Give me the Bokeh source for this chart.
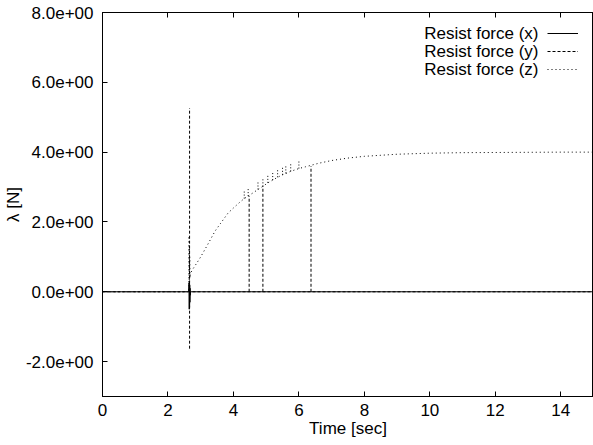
from bokeh.plotting import figure
from bokeh.models import (Range1d, FixedTicker, LinearAxis, Legend, LegendItem, Label)
from bokeh.embed import file_html
from bokeh.resources import INLINE

# ---- data ----
series_names = ["Resist force (x)", "Resist force (y)", "Resist force (z)"]

# x component: zero with a short oscillation at contact
t_x = [0.0, 2.63, 2.645, 2.65, 2.655, 2.66, 2.665, 2.67, 2.675, 2.68, 2.69, 15.0]
f_x = [0.0, 0.0, 0.25, -0.5, 0.3, -0.45, 0.2, -0.3, 0.1, -0.1, 0.0, 0.0]

# y component: zero baseline plus isolated impulses
t_y = [0.0, 15.0]
f_y = [0.0, 0.0]
t_y_spike = [2.66, 4.48, 4.90, 6.37]
lo_y_spike = [-1.63, 0.0, 0.0, 0.0]
hi_y_spike = [5.26, 2.74, 3.03, 3.60]

# z component: rises towards 4 N after contact, with small kinks
t_z = [0.0, 2.64, 2.645, 2.65, 2.655, 2.66, 2.665, 2.67, 2.70, 2.76,
       2.9, 3.0, 3.2, 3.44, 3.6, 3.84, 4.0, 4.2, 4.33, 4.45, 4.75,
       4.90, 5.05, 5.20, 5.35, 5.50, 5.60, 5.75, 6.00,
       6.2, 6.4, 6.6, 7.0, 7.5, 8.0, 8.5, 9.0, 10.0, 11.0, 12.0, 13.0, 14.0, 15.0]
f_z = [0.0, 0.0, 1.6, 0.2, 1.3, 0.3, 1.0, 0.4, 0.55, 0.65,
       0.85, 1.0, 1.33, 1.74, 1.95, 2.26, 2.40, 2.57, 2.67, 2.74, 2.93,
       3.02, 3.12, 3.20, 3.28, 3.35, 3.39, 3.45, 3.53,
       3.58, 3.63, 3.68, 3.76, 3.83, 3.88, 3.91, 3.94, 3.97, 3.985, 3.99, 3.995, 4.0, 4.0]
t_z_kink = [4.33, 4.45, 4.75, 4.90, 5.05, 5.20, 5.35, 5.50, 5.60, 5.75, 6.00]
lo_z_kink = [2.67, 2.74, 2.93, 3.02, 3.12, 3.20, 3.28, 3.35, 3.39, 3.45, 3.53]
hi_z_kink = [2.89, 2.96, 3.15, 3.24, 3.34, 3.42, 3.50, 3.57, 3.61, 3.67, 3.75]

x_ticks = [0, 2, 4, 6, 8, 10, 12, 14]
y_ticks = [-2, 0, 2, 4, 6, 8]
y_tick_labels = ["-2.0e+00", "0.0e+00", "2.0e+00", "4.0e+00", "6.0e+00", "8.0e+00"]

FONT = "Liberation Sans"
FS = "17px"

p = figure(width=593, height=445, x_range=Range1d(0, 15), y_range=Range1d(-3, 8),
           output_backend="svg", toolbar_location=None,
           min_border_left=101, min_border_right=0, min_border_top=12, min_border_bottom=49)
p.grid.visible = False
p.outline_line_color = "black"
p.outline_line_width = 1
p.background_fill_color = "white"
p.border_fill_color = "white"

p.xaxis.ticker = FixedTicker(ticks=x_ticks)
p.yaxis.ticker = FixedTicker(ticks=y_ticks)
p.yaxis.major_label_overrides = {v: s for v, s in zip(y_ticks, y_tick_labels)}
p.xaxis.axis_label = "Time [sec]"
p.yaxis.axis_label = "λ [N]"

for ax in (p.xaxis, p.yaxis):
    ax.axis_line_color = "black"
    ax.major_tick_in = 5
    ax.major_tick_out = 0
    ax.major_tick_line_color = "black"
    ax.minor_tick_line_color = None
    ax.major_label_text_font = FONT
    ax.major_label_text_font_size = FS
    ax.major_label_text_color = "black"
    ax.axis_label_text_font = FONT
    ax.axis_label_text_font_size = FS
    ax.axis_label_text_font_style = "normal"
    ax.axis_label_text_color = "black"

p.xaxis.major_label_standoff = 7
p.xaxis.axis_label_standoff = 0
p.yaxis.major_label_standoff = 9
p.yaxis.axis_label_standoff = 0

# mirrored ticks on top (labels not drawn)
top_ax = LinearAxis(ticker=FixedTicker(ticks=x_ticks), major_tick_in=5, major_tick_out=0,
                    minor_tick_line_color=None, major_label_text_color=None,
                    major_label_text_font_size="1px", major_label_standoff=0,
                    axis_line_color="black", major_tick_line_color="black")
p.add_layout(top_ax, "above")

rx = p.line(t_x, f_x, line_color="black", line_width=1)
ry = p.line(t_y, f_y, line_color="black", line_width=1, line_dash="3 2")
p.segment(x0=t_y_spike, y0=lo_y_spike, x1=t_y_spike, y1=hi_y_spike,
          line_color="black", line_width=1, line_dash="3 2")
rz = p.line(t_z, f_z, line_color="black", line_width=1, line_dash="1 3")
p.segment(x0=t_z_kink, y0=lo_z_kink, x1=t_z_kink, y1=hi_z_kink,
          line_color="black", line_width=1, line_dash="1 2")

legend = Legend(items=[LegendItem(label=" ", renderers=[r]) for r in (rx, ry, rz)],
                location=(445, 318), padding=0, margin=0, spacing=0,
                glyph_width=31, glyph_height=18, label_height=18, label_width=0,
                label_standoff=0, label_text_font_size="1px", label_text_color=None,
                border_line_color=None, background_fill_alpha=0)
p.add_layout(legend, "center")

for i, name in enumerate(series_names):
    p.add_layout(Label(x=436, y=363 - 18 * i, x_units="screen", y_units="screen",
                       text=name, text_align="right", text_baseline="middle",
                       text_font=FONT, text_font_size=FS, text_color="black"))

open("out.html", "w").write(file_html(p, INLINE))
